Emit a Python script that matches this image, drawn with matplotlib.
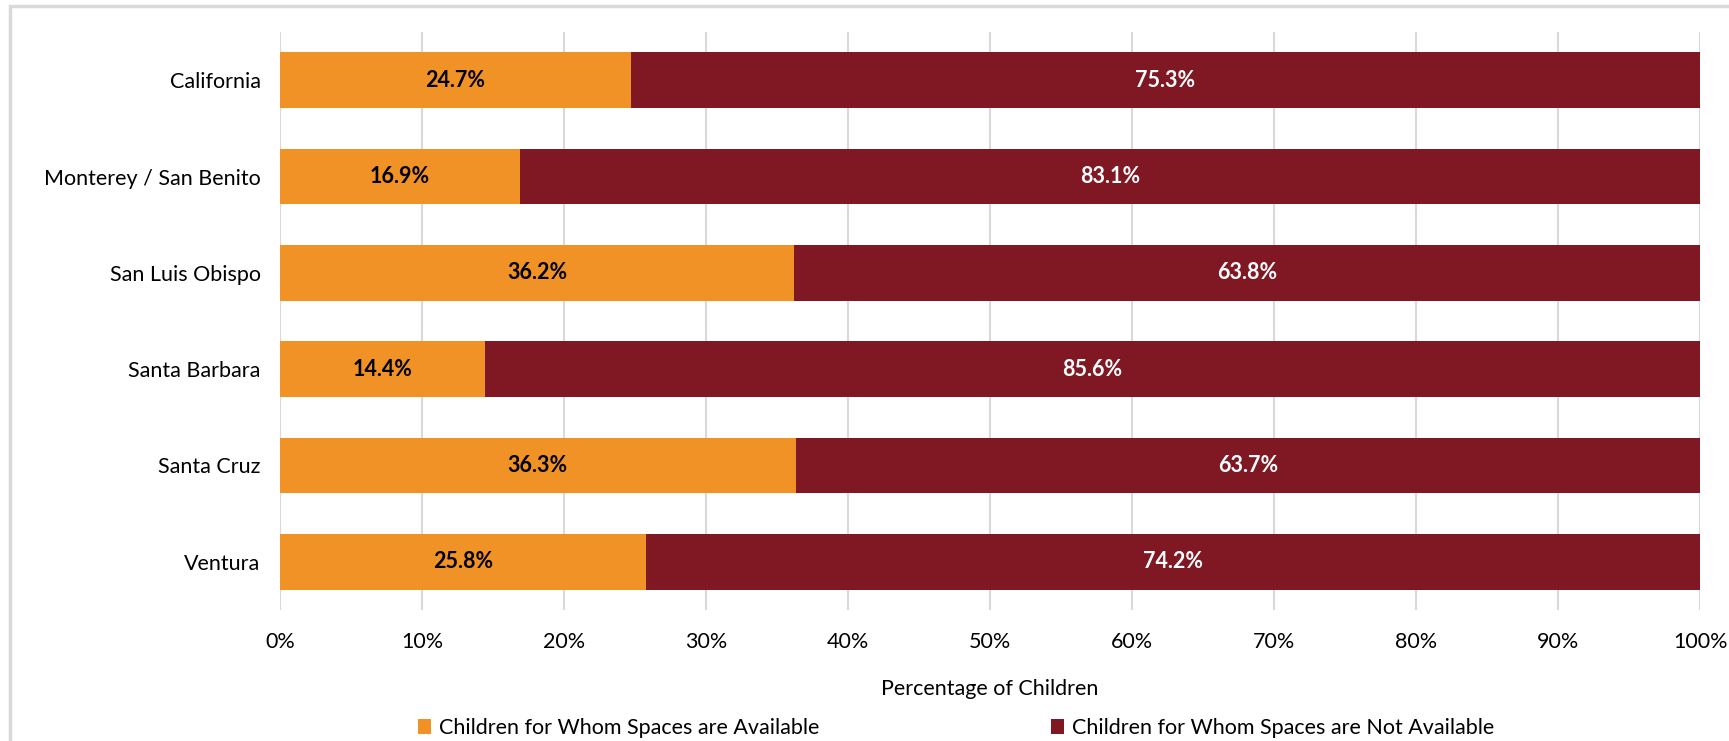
import numpy as np
import matplotlib
matplotlib.use("Agg")
import matplotlib.pyplot as plt
from matplotlib.patches import Rectangle

regioes = ["California", "Monterey / San Benito", "San Luis Obispo",
           "Santa Barbara", "Santa Cruz", "Ventura"]
disponivel = [24.7, 16.9, 36.2, 14.4, 36.3, 25.8]
indisponivel = [75.3, 83.1, 63.8, 85.6, 63.7, 74.2]
rotulos_x = ["0%", "10%", "20%", "30%", "40%", "50%", "60%", "70%", "80%", "90%", "100%"]

cor_laranja = "#F09225"
cor_vinho = "#801824"
plt.rcParams["font.family"] = ["Lato", "DejaVu Sans"]
fs = 15.5

fig = plt.figure(figsize=(17.29, 7.41), dpi=100)
ax = fig.add_axes([0.162, 0.1768, 0.8213, 0.78])

y = np.arange(len(regioes))
b1 = ax.barh(y, disponivel, height=0.58, color=cor_laranja,
             label="Children for Whom Spaces are Available", zorder=3)
b2 = ax.barh(y, indisponivel, left=disponivel, height=0.58, color=cor_vinho,
             label="Children for Whom Spaces are Not Available", zorder=3)

ax.bar_label(b1, labels=[f"{v:.1f}%" for v in disponivel], label_type="center",
             color="black", fontweight="bold", fontsize=fs)
ax.bar_label(b2, labels=[f"{v:.1f}%" for v in indisponivel], label_type="center",
             color="white", fontweight="bold", fontsize=fs)

ax.set_ylim(len(regioes) - 0.5, -0.5)
ax.set_yticks(y)
ax.set_yticklabels(regioes, fontsize=fs)
ax.set_xlim(0, 100)
ax.set_xticks(np.arange(0, 101, 10))
ax.set_xticklabels(rotulos_x, fontsize=fs)
ax.tick_params(axis="x", length=0, pad=16)
ax.tick_params(axis="y", length=0, pad=14)
ax.grid(axis="x", color="#D9D9D9", linewidth=1.5, zorder=0)
for s in ax.spines.values():
    s.set_visible(False)
ax.set_xlabel("Percentage of Children", fontsize=fs, labelpad=19)

fig.legend(loc="center", bbox_to_anchor=(0.553, 0.0175), ncol=2, frameon=False,
           fontsize=fs, handlelength=0.6, handleheight=0.7, handletextpad=0.35,
           columnspacing=10.8)

# moldura cinza do grafico
fig.patches.append(Rectangle((10 / 1729, -0.1), 1.2, 1 - 5.5 / 741 + 0.1,
                             transform=fig.transFigure, fill=False,
                             edgecolor="#D9D9D9", linewidth=2.5))

fig.savefig("out.png", dpi=100)
